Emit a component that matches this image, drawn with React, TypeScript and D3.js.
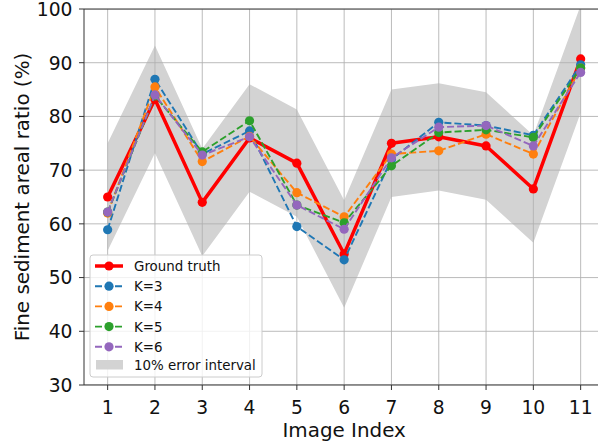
import React from 'react';
import * as d3 from 'd3';

// values
const imageIndex = [1, 2, 3, 4, 5, 6, 7, 8, 9, 10, 11];
const groundTruth = [65.0, 83.2, 64.0, 76.0, 71.3, 54.4, 75.0, 76.2, 74.5, 66.5, 90.7];
const k3 = [58.9, 86.9, 73.0, 77.3, 59.5, 53.3, 72.0, 78.9, 78.3, 76.5, 89.6];
const k4 = [62.0, 85.5, 71.6, 76.3, 65.8, 61.3, 73.0, 73.6, 76.7, 73.0, 89.0];
const k5 = [62.2, 83.8, 73.4, 79.2, 63.5, 60.2, 70.8, 77.0, 77.5, 76.1, 89.0];
const k6 = [62.2, 84.0, 72.8, 76.2, 63.5, 59.0, 72.3, 78.0, 78.3, 74.5, 88.2];
const errorPct = 10;
const yTicks = [30, 40, 50, 60, 70, 80, 90, 100];

const seriesNames = ['K=3', 'K=4', 'K=5', 'K=6'];
const seriesColors = ['#1f77b4', '#ff7f0e', '#2ca02c', '#9467bd'];
const seriesValues = [k3, k4, k5, k6];

const W = 598;
const H = 443;
const margin = { top: 9, left: 84, right: 604.3, bottom: 385 };
const font = 'DejaVu Sans, sans-serif';

const App = () => {
    var x = d3.scaleLinear().domain([0.5, 11.5]).range([margin.left, margin.right]);
    var y = d3.scaleLinear().domain([30, 100]).range([margin.bottom, margin.top]);

    var line = d3.line<number>()
        .x((d, i) => x(imageIndex[i]))
        .y((d) => y(d));

    var band = d3.area<number>()
        .x((d, i) => x(imageIndex[i]))
        .y0((d) => y(d - errorPct))
        .y1((d) => y(d + errorPct));

    // legend
    var lgX = 90, lgY = 255, lgW = 172, lgH = 122;
    var rowY = (i: number) => 266 + i * 20.2;

    return (
        <svg width={W} height={H} style={{ position: 'absolute', left: 0, top: 0 }}>
            <rect width={W} height={H} fill="white" />
            <defs>
                <clipPath id="plotClip">
                    <rect x={margin.left} y={margin.top} width={margin.right - margin.left} height={margin.bottom - margin.top} />
                </clipPath>
            </defs>
            <g clipPath="url(#plotClip)">
                <path d={band(groundTruth) || ''} fill="#d3d3d3" />
                {imageIndex.map((v) => (
                    <line key={'gx' + v} x1={x(v)} x2={x(v)} y1={margin.top} y2={margin.bottom} stroke="#b0b0b0" strokeWidth={1} opacity={0.85} />
                ))}
                {yTicks.map((v) => (
                    <line key={'gy' + v} x1={margin.left} x2={W} y1={y(v)} y2={y(v)} stroke="#b0b0b0" strokeWidth={1} opacity={0.85} />
                ))}
                <path d={line(groundTruth) || ''} fill="none" stroke="#ff0000" strokeWidth={3.5} strokeLinejoin="round" />
                {groundTruth.map((v, i) => (
                    <circle key={'gt' + i} cx={x(imageIndex[i])} cy={y(v)} r={4.6} fill="#ff0000" />
                ))}
                {seriesValues.map((vals, s) => (
                    <g key={'s' + s}>
                        <path d={line(vals) || ''} fill="none" stroke={seriesColors[s]} strokeWidth={1.9} strokeDasharray="7,3" />
                        {vals.map((v, i) => (
                            <circle key={i} cx={x(imageIndex[i])} cy={y(v)} r={4.6} fill={seriesColors[s]} />
                        ))}
                    </g>
                ))}
            </g>
            {/* spines */}
            <line x1={margin.left} x2={W} y1={margin.top} y2={margin.top} stroke="#333" strokeWidth={1} />
            <line x1={margin.left} x2={W} y1={margin.bottom} y2={margin.bottom} stroke="#333" strokeWidth={1} />
            <line x1={margin.left} x2={margin.left} y1={margin.top} y2={margin.bottom} stroke="#333" strokeWidth={1} />
            {/* x ticks */}
            {imageIndex.map((v) => (
                <g key={'xt' + v}>
                    <line x1={x(v)} x2={x(v)} y1={margin.bottom} y2={margin.bottom + 5} stroke="#333" />
                    <text x={x(v)} y={414} textAnchor="middle" fontFamily={font} fontSize={18.7} fill="#111">{v}</text>
                </g>
            ))}
            {/* y ticks */}
            {yTicks.map((v) => (
                <g key={'yt' + v}>
                    <line x1={margin.left - 5} x2={margin.left} y1={y(v)} y2={y(v)} stroke="#333" />
                    <text x={72.5} y={y(v) + 6.8} textAnchor="end" fontFamily={font} fontSize={18.7} fill="#111">{v}</text>
                </g>
            ))}
            <text x={(margin.left + margin.right) / 2} y={437} textAnchor="middle" fontFamily={font} fontSize={19.9} fill="#111">Image Index</text>
            <text transform={`translate(28.5, ${(margin.top + margin.bottom) / 2}) rotate(-90)`} textAnchor="middle" fontFamily={font} fontSize={19.9} fill="#111">Fine sediment areal ratio (%)</text>
            {/* legend */}
            <rect x={lgX} y={lgY} width={lgW} height={lgH} rx={3} fill="white" fillOpacity={0.8} stroke="#cccccc" strokeWidth={1} />
            <line x1={95} x2={123} y1={rowY(0)} y2={rowY(0)} stroke="#ff0000" strokeWidth={3.5} />
            <circle cx={109} cy={rowY(0)} r={4.6} fill="#ff0000" />
            <text x={134} y={rowY(0) + 5} fontFamily={font} fontSize={13.4} fill="#111">Ground truth</text>
            {seriesNames.map((name, s) => (
                <g key={'lg' + s}>
                    <line x1={95} x2={123} y1={rowY(s + 1)} y2={rowY(s + 1)} stroke={seriesColors[s]} strokeWidth={1.9} strokeDasharray="7,3" />
                    <circle cx={109} cy={rowY(s + 1)} r={4.6} fill={seriesColors[s]} />
                    <text x={134} y={rowY(s + 1) + 5} fontFamily={font} fontSize={13.4} fill="#111">{name}</text>
                </g>
            ))}
            <rect x={96} y={360} width={27} height={9.5} fill="#d3d3d3" />
            <text x={134} y={369.5} fontFamily={font} fontSize={13.4} fill="#111">10% error interval</text>
        </svg>
    );
};

export default App;
